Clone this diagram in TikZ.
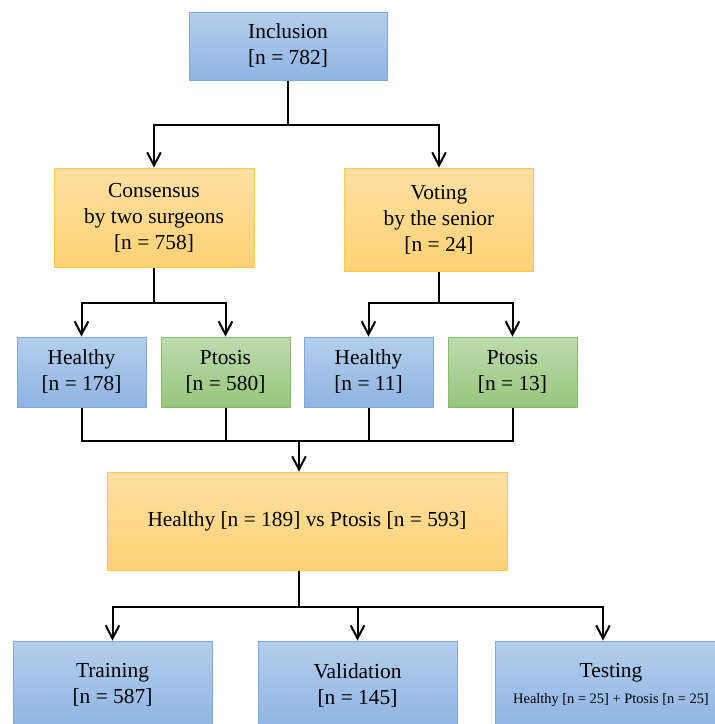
\documentclass[tikz,border=0pt]{standalone}
\usepackage{fontspec}
\setmainfont{Liberation Serif}
\usetikzlibrary{arrows.meta}

\definecolor{bluetop}{HTML}{B4CEEC}
\definecolor{bluebot}{HTML}{8EB4E3}
\definecolor{blueline}{HTML}{7EA8DA}
\definecolor{oratop}{HTML}{FFE0A3}
\definecolor{orabot}{HTML}{FFD275}
\definecolor{oraline}{HTML}{FFC94A}
\definecolor{grntop}{HTML}{BCDBAE}
\definecolor{grnbot}{HTML}{97C67C}
\definecolor{grnline}{HTML}{86BC68}

\tikzset{
  box/.style={draw, line width=0.5pt, inner sep=0pt, align=center,
    font=\fontsize{10.7}{13}\selectfont},
  bluebox/.style={box, draw=blueline, top color=bluetop, bottom color=bluebot},
  orabox/.style={box, draw=oraline, top color=oratop, bottom color=orabot},
  grnbox/.style={box, draw=grnline, top color=grntop, bottom color=grnbot},
  leaf/.style={minimum width=64.5pt, minimum height=35pt},
  link/.style={line width=1pt},
  arr/.style={link, -{Straight Barb[length=6.5pt,width=6.8pt]}}
}

\begin{document}
\begin{tikzpicture}[x=0.5pt,y=-0.5pt]
\useasboundingbox (0,0) rectangle (715,724);
\clip (0,0) rectangle (715,724);

\node[bluebox, minimum width=99pt, minimum height=34pt] (incl) at (288,46) {Inclusion\\{[n = 782]}};
\node[orabox, minimum width=100pt, minimum height=49.5pt] (cons) at (154,217.5) {Consensus\\by two surgeons\\{[n = 758]}};
\node[orabox, minimum width=94.5pt, minimum height=51.5pt] (vote) at (439,219.5) {Voting\\by the senior\\{[n = 24]}};

\node[bluebox, leaf] (heal1) at (81.5,372) {Healthy\\{[n = 178]}};
\node[grnbox, leaf] (ptos1) at (225.5,372) {Ptosis\\{[n = 580]}};
\node[bluebox, leaf] (heal2) at (368.5,372) {Healthy\\{[n = 11]}};
\node[grnbox, leaf] (ptos2) at (512.5,372) {Ptosis\\{[n = 13]}};

\node[orabox, minimum width=200pt, minimum height=49pt] (all) at (307,521) {Healthy [n = 189] vs Ptosis [n = 593]};

\node[bluebox, minimum width=99.5pt, minimum height=44pt] (train) at (112.5,685) {Training\\{[n = 587]}};
\node[bluebox, minimum width=99.5pt, minimum height=44pt] (valid) at (357.5,685) {Validation\\{[n = 145]}};
\node[bluebox, minimum width=116pt, minimum height=44pt] (test) at (611,685) {Testing\\{\fontsize{7.2}{9}\selectfont Healthy [n = 25] + Ptosis [n = 25]}};

\coordinate (j1) at (288,125);
\coordinate (j2) at (154,303);
\coordinate (j3) at (439,303);
\coordinate (m) at (299,441);
\coordinate (j4) at (299,607);

\draw[link] (incl) -- (j1);
\draw[arr] (j1) -| (cons.north);
\draw[arr] (j1) -| (vote.north);
\draw[link] (cons) -- (j2);
\draw[arr] (j2) -| (heal1.north);
\draw[arr] (j2) -| (ptos1.north);
\draw[link] (vote) -- (j3);
\draw[arr] (j3) -| (heal2.north);
\draw[arr] (j3) -| (ptos2.north);

\draw[link] (heal1.south) |- (ptos2.south |- m) -- (ptos2.south);
\draw[link] (ptos1.south) -- (ptos1.south |- m);
\draw[link] (heal2.south) -- (heal2.south |- m);
\draw[arr] (m) -- (all.north -| m);

\draw[link] (all.south -| j4) -- (j4);
\draw[arr] (j4) -| (train.north);
\draw[arr] (j4) -| (valid.north);
\draw[arr] (j4) -| ([xshift=-4pt]test.north);
\end{tikzpicture}
\end{document}
